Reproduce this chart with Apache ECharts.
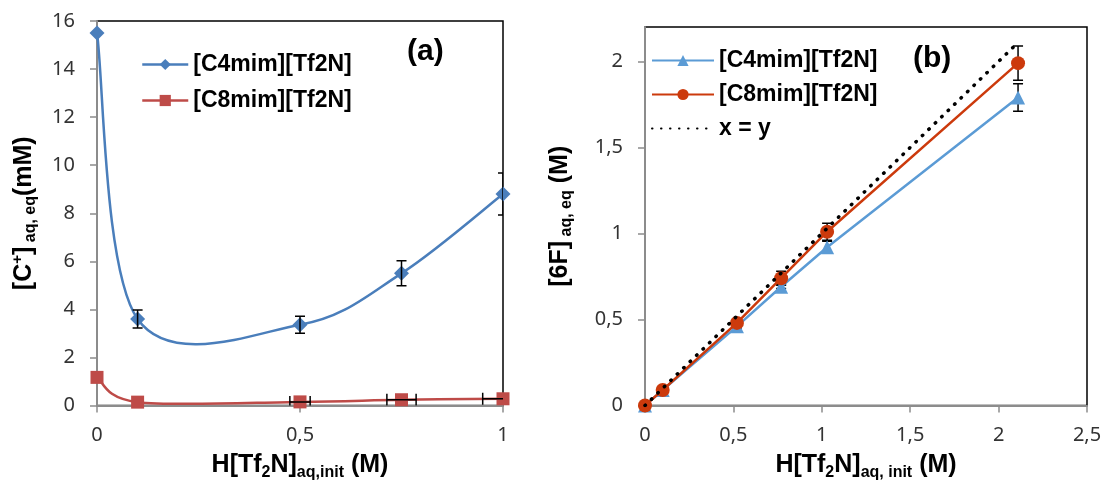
<!DOCTYPE html>
<html><head><meta charset="utf-8">
<script src="https://cdn.jsdelivr.net/npm/echarts@6/dist/echarts.min.js"></script>
<style>html,body{margin:0;padding:0;background:#fff}#c{width:1105px;height:481px}</style>
</head><body><div id="c"></div>
<script>
// Panel (a)
const xA = [0, 0.1, 0.5, 0.75, 1];
const c4A = [15.5, 3.6, 3.36, 5.5, 8.8];
const c4AErr = [0, 0.37, 0.35, 0.52, 0.87];
const c8A = [1.17, 0.14, 0.15, 0.24, 0.28];
const c8AxErr = [0, 0, 0.025, 0.036, 0.05];
const xTicksA = [0, 0.5, 1];
const yTicksA = [0, 2, 4, 6, 8, 10, 12, 14, 16];
// Panel (b)
const xB = [0, 0.1, 0.52, 0.77, 1.03, 2.11];
const c4B = [0, 0.09, 0.46, 0.69, 0.92, 1.79];
const c4BErr = [0, 0, 0.01, 0.01, 0.035, 0.08];
const c8B = [0, 0.09, 0.48, 0.74, 1.01, 1.99];
const c8BErr = [0, 0, 0.02, 0.04, 0.05, 0.1];
const xyLine = [0, 2.1];
const xTicksB = [0, 0.5, 1, 1.5, 2, 2.5];
const yTicksB = [0, 0.5, 1, 1.5, 2];
const names = ['[C4mim][Tf2N]', '[C8mim][Tf2N]', 'x = y'];

const colA4 = '#4a7ebb', colA8 = '#be4b48', colB4 = '#5b9bd5', colB8 = '#cc3a0c';
const fmt = v => String(v).replace('.', ',');
const bold = 'Liberation Sans';
const rich = {
  b: {fontSize: 25, fontWeight: 'bold', fontFamily: bold, color: '#000'},
  sub: {fontSize: 16, fontWeight: 'bold', fontFamily: bold, color: '#000', padding: [14, 0, 0, 0]},
  sup: {fontSize: 15, fontWeight: 'bold', fontFamily: bold, color: '#000', padding: [0, 0, 12, 0]}
};
const gray = '#8c8c8c';
function axisCommon(min, max, ticks, margin) {
  return {
    type: 'value', min: min, max: max,
    splitLine: {show: false},
    axisLine: {show: true, lineStyle: {color: gray, width: 2}},
    axisTick: {show: true, inside: false, length: 7, lineStyle: {color: gray, width: 1.5}, customValues: ticks},
    axisLabel: {color: '#333', fontSize: 20, fontFamily: 'Noto Sans', margin: margin, formatter: fmt, customValues: ticks},
    nameLocation: 'middle', nameTextStyle: {rich: rich}
  };
}
const vErr = (xs, ys, es) => xs.map((x, i) => [x, ys[i] - es[i], ys[i] + es[i]]).filter((d, i) => es[i] > 0);
const hErr = (xs, ys, es) => xs.map((x, i) => [ys[i], x - es[i], x + es[i]]).filter((d, i) => es[i] > 0);
const errStyle = {stroke: '#000', lineWidth: 1.5};
function renderV(params, api) {
  const x = api.value(0), lo = api.value(1), hi = api.value(2);
  const a = api.coord([x, hi]), b = api.coord([x, lo]);
  return {type: 'group', children: [
    {type: 'line', shape: {x1: a[0], y1: a[1], x2: b[0], y2: b[1]}, style: errStyle},
    {type: 'line', shape: {x1: a[0] - 5, y1: a[1], x2: a[0] + 5, y2: a[1]}, style: errStyle},
    {type: 'line', shape: {x1: b[0] - 5, y1: b[1], x2: b[0] + 5, y2: b[1]}, style: errStyle}
  ]};
}
function renderH(params, api) {
  const y = api.value(0), lo = api.value(1), hi = api.value(2);
  const a = api.coord([lo, y]), b = api.coord([hi, y]);
  return {type: 'group', children: [
    {type: 'line', shape: {x1: a[0], y1: a[1], x2: b[0], y2: b[1]}, style: errStyle},
    {type: 'line', shape: {x1: a[0], y1: a[1] - 6, x2: a[0], y2: a[1] + 6}, style: errStyle},
    {type: 'line', shape: {x1: b[0], y1: b[1] - 6, x2: b[0], y2: b[1] + 6}, style: errStyle}
  ]};
}
// Excel-like smoothed line (Catmull-Rom style Bezier through the data points)
function smoothRenderer(color) {
  return function (params, api) {
    const i = params.dataIndexInside, n = params.dataInsideLength;
    if (i >= n - 1) return null;
    const P = k => { k = Math.max(0, Math.min(n - 1, k)); return api.coord([api.value(0, k), api.value(1, k)]); };
    const p0 = P(i - 1), p1 = P(i), p2 = P(i + 1), p3 = P(i + 2);
    return {type: 'bezierCurve', shape: {
      x1: p1[0], y1: p1[1], x2: p2[0], y2: p2[1],
      cpx1: p1[0] + (p2[0] - p0[0]) / 6, cpy1: p1[1] + (p2[1] - p0[1]) / 6,
      cpx2: p2[0] - (p3[0] - p1[0]) / 6, cpy2: p2[1] - (p3[1] - p1[1]) / 6
    }, style: {stroke: color, lineWidth: 2.5, fill: 'none'}};
  };
}
const zip = (xs, ys) => xs.map((x, i) => [x, ys[i]]);
const legendText = {fontSize: 23, fontWeight: 'bold', fontFamily: bold, color: '#000'};

const chart = echarts.init(document.getElementById('c'));
chart.setOption({
  animation: false,
  grid: [
    {left: 97, right: 602, top: 21, bottom: 75.5, show: true, borderColor: '#000', borderWidth: 1.5, outerBoundsMode: 'none', containLabel: false},
    {left: 645, right: 18, top: 27, bottom: 75.5, show: true, borderColor: '#000', borderWidth: 1.5, outerBoundsMode: 'none', containLabel: false}
  ],
  xAxis: [
    Object.assign(axisCommon(0, 1, xTicksA, 20), {gridIndex: 0, interval: 0.5, nameGap: 45,
      name: '{b|H[Tf}{sub|2}{b|N]}{sub|aq,init}{b| (M)}'}),
    Object.assign(axisCommon(0, 2.5, xTicksB, 20), {gridIndex: 1, interval: 0.5, nameGap: 45,
      name: '{b|H[Tf}{sub|2}{b|N]}{sub|aq, init}{b| (M)}'})
  ],
  yAxis: [
    Object.assign(axisCommon(0, 16, yTicksA, 22), {gridIndex: 0, interval: 2, nameGap: 58,
      name: '{b|[C}{sup|+}{b|]}{sub| aq, eq}{b|(mM)}'}),
    Object.assign(axisCommon(0, 2.2, yTicksB, 22), {gridIndex: 1, interval: 0.5, nameGap: 70,
      name: '{b|[6F]}{sub| aq, eq}{b| (M)}'})
  ],
  legend: [
    {data: [
      {name: names[0], lineStyle: {opacity: 1, width: 2.5, color: colA4}},
      {name: names[1], lineStyle: {opacity: 1, width: 2.5, color: colA8}}
    ], orient: 'vertical', left: 136, top: 48, itemWidth: 46, itemHeight: 14, itemGap: 13, textStyle: legendText},
    {data: [
      {name: names[0] + ' '}, {name: names[1] + ' '},
      {name: names[2], itemStyle: {opacity: 0}}
    ], orient: 'vertical', left: 646, top: 44, itemWidth: 62, itemHeight: 14, itemGap: 11, textStyle: legendText}
  ],
  graphic: [
    {type: 'text', left: 407, top: 37, style: {text: '(a)', font: 'bold 30px "Liberation Sans"', fill: '#000'}},
    {type: 'text', left: 913, top: 44, style: {text: '(b)', font: 'bold 30px "Liberation Sans"', fill: '#000'}}
  ],
  series: [
    {type: 'custom', xAxisIndex: 0, yAxisIndex: 0, data: zip(xA, c4A), renderItem: smoothRenderer(colA4), z: 1, silent: true},
    {type: 'custom', xAxisIndex: 0, yAxisIndex: 0, data: zip(xA, c8A), renderItem: smoothRenderer(colA8), z: 1, silent: true},
    {name: names[0], type: 'line', xAxisIndex: 0, yAxisIndex: 0, data: zip(xA, c4A),
      symbol: 'diamond', symbolSize: 15, color: colA4, lineStyle: {width: 2.5, color: colA4, opacity: 0}, itemStyle: {color: colA4}, z: 3},
    {name: names[1], type: 'line', xAxisIndex: 0, yAxisIndex: 0, data: zip(xA, c8A),
      symbol: 'rect', symbolSize: 13, color: colA8, lineStyle: {width: 2.5, color: colA8, opacity: 0}, itemStyle: {color: colA8}, z: 3},
    {type: 'custom', xAxisIndex: 0, yAxisIndex: 0, data: vErr(xA, c4A, c4AErr), renderItem: renderV, z: 5, silent: true, clip: true},
    {type: 'custom', xAxisIndex: 0, yAxisIndex: 0, data: hErr(xA, c8A, c8AxErr), renderItem: renderH, z: 5, silent: true, clip: true},
    {name: names[2], type: 'line', xAxisIndex: 1, yAxisIndex: 1, data: zip(xyLine, xyLine), symbol: 'none',
      color: '#000', lineStyle: {width: 3.5, type: [0.5, 8.5], color: '#000', cap: 'round'}, z: 4},
    {name: names[0] + ' ', type: 'line', xAxisIndex: 1, yAxisIndex: 1, data: zip(xB, c4B),
      symbol: 'triangle', symbolSize: 14, color: colB4, lineStyle: {width: 2.5, color: colB4}, itemStyle: {color: colB4}, z: 2},
    {name: names[1] + ' ', type: 'line', xAxisIndex: 1, yAxisIndex: 1, data: zip(xB, c8B),
      symbol: 'circle', symbolSize: 14, color: colB8, lineStyle: {width: 2.5, color: colB8}, itemStyle: {color: colB8}, z: 3},
    {type: 'custom', xAxisIndex: 1, yAxisIndex: 1, data: vErr(xB, c4B, c4BErr), renderItem: renderV, z: 1, silent: true, clip: true},
    {type: 'custom', xAxisIndex: 1, yAxisIndex: 1, data: vErr(xB, c8B, c8BErr), renderItem: renderV, z: 1, silent: true, clip: true}
  ]
});
</script></body></html>
